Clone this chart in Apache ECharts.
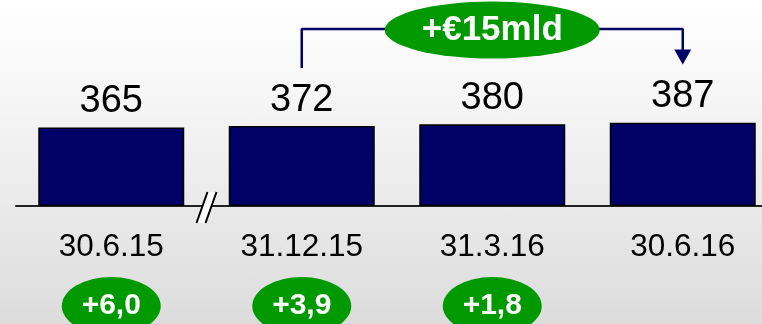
<!DOCTYPE html>
<html>
<head>
<meta charset="utf-8">
<script src="https://cdn.jsdelivr.net/npm/echarts@6/dist/echarts.min.js"></script>
<style>
  html, body { margin: 0; padding: 0; }
  #chart {
    width: 762px; height: 324px;
    background: linear-gradient(to bottom, #ffffff 0%, #f4f4f4 35%, #dcdcdc 100%);
  }
</style>
</head>
<body>
<div id="chart"></div>
<script>
// Reporting dates and stock at each date (€ bn)
const categories = ['30.6.15', '31.12.15', '31.3.16', '30.6.16'];
const values = [365, 372, 380, 387];
// Quarterly increments shown under each date
const increments = ['+6,0', '+3,9', '+1,8', null];

const FONT = '"Liberation Sans", Arial, sans-serif';
const NAVY = '#000066';
const GREEN = '#009900';

// Bracket from the second to the last date, labelled with the growth between them
const fromIdx = 1, toIdx = 3;
const growthLabel = '+€' + (values[toIdx] - values[fromIdx]) + 'mld';
const midIdx = 2;

const chart = echarts.init(document.getElementById('chart'));

const gridBase = { left: 16, width: 762, outerBoundsMode: 'none', containLabel: false };

const option = {
  backgroundColor: 'transparent',
  animation: false,
  grid: [
    Object.assign({ top: 120, height: 86 }, gridBase),   // bars
    Object.assign({ top: 0, height: 70 }, gridBase),     // bracket overlay
    Object.assign({ top: 277, height: 58 }, gridBase)    // increment badges
  ],
  xAxis: [
    {
      gridIndex: 0, type: 'category', data: categories,
      axisLine: { lineStyle: { color: '#222', width: 2 } },
      axisTick: { show: false },
      axisLabel: { fontSize: 31.5, color: '#000', fontFamily: FONT, margin: 25 }
    },
    { gridIndex: 1, type: 'category', data: categories, show: false },
    { gridIndex: 2, type: 'category', data: categories, show: false }
  ],
  yAxis: [
    { gridIndex: 0, type: 'value', min: 0, max: 400, show: false },
    { gridIndex: 1, type: 'value', min: 0, max: 70, inverse: true, show: false },
    { gridIndex: 2, type: 'value', min: 0, max: 1, show: false }
  ],
  series: [
    {
      type: 'bar', xAxisIndex: 0, yAxisIndex: 0,
      data: values, barWidth: 146,
      itemStyle: { color: NAVY, borderColor: '#000', borderWidth: 1.5 },
      label: {
        show: true, position: 'top', distance: 7,
        fontSize: 38, color: '#000', fontFamily: FONT
      }
    },
    {
      // bracket connector with a downward arrow at its end
      type: 'line', xAxisIndex: 1, yAxisIndex: 1,
      data: [
        { value: [fromIdx, 68], symbol: 'none' },
        { value: [fromIdx, 29], symbol: 'none' },
        { value: [toIdx, 29], symbol: 'none' },
        { value: [toIdx, 57], symbol: 'triangle', symbolRotate: 180, symbolSize: [17, 15] }
      ],
      showSymbol: true,
      lineStyle: { color: NAVY, width: 2.5 },
      itemStyle: { color: NAVY },
      z: 3
    },
    {
      type: 'scatter', xAxisIndex: 1, yAxisIndex: 1,
      data: [[midIdx, 30]],
      symbol: 'circle', symbolSize: [215, 57],
      itemStyle: { color: GREEN, opacity: 1 },
      label: {
        show: true, position: 'inside', formatter: growthLabel,
        fontSize: 35, fontWeight: 'bold', color: '#fff', fontFamily: FONT
      },
      z: 5
    },
    {
      type: 'scatter', xAxisIndex: 2, yAxisIndex: 2,
      data: increments.map((t, i) => t === null ? null : { value: [i, 0.5], name: t }),
      symbol: 'circle', symbolSize: [99, 58],
      itemStyle: { color: GREEN, opacity: 1 },
      label: {
        show: true, position: 'inside', formatter: p => p.name,
        fontSize: 30, fontWeight: 'bold', color: '#fff', fontFamily: FONT
      },
      z: 5
    }
  ]
};

chart.setOption(option);

// Axis break mark between the first and second date
const p0 = chart.convertToPixel({ xAxisIndex: 0, yAxisIndex: 0 }, [0, 0]);
const p1 = chart.convertToPixel({ xAxisIndex: 0, yAxisIndex: 0 }, [1, 0]);
const bx = (p0[0] + p1[0]) / 2;
const by = p0[1];
chart.setOption({
  graphic: [
    {
      type: 'polygon', z: 10,
      shape: { points: [[bx - 10, by + 17], [bx - 1, by + 17], [bx + 10, by - 14], [bx + 1, by - 14]] },
      style: { fill: '#fff', stroke: null }
    },
    {
      type: 'line', z: 11,
      shape: { x1: bx - 10, y1: by + 17, x2: bx + 1, y2: by - 14 },
      style: { stroke: '#000', lineWidth: 2 }
    },
    {
      type: 'line', z: 11,
      shape: { x1: bx - 1, y1: by + 17, x2: bx + 10, y2: by - 14 },
      style: { stroke: '#000', lineWidth: 2 }
    }
  ]
});
</script>
</body>
</html>
